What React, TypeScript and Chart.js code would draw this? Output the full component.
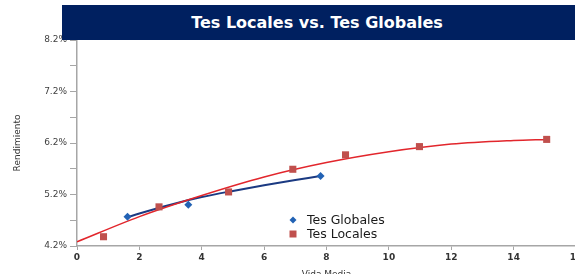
import React, { useEffect, useRef } from 'react';
import { Chart, registerables } from 'chart.js';

Chart.register(...registerables);

const titleText = 'Tes Locales vs. Tes Globales';
const xAxisTitle = 'Vida Media';
const yAxisTitle = 'Rendimiento';

const globalesLabel = 'Tes Globales';
const localesLabel = 'Tes Locales';

const globalesX = [1.62, 3.57, 7.81];
const globalesY = [4.77, 5.0, 5.56];
const localesX = [0.85, 2.63, 4.86, 6.92, 8.61, 10.98, 15.06];
const localesY = [4.38, 4.96, 5.25, 5.69, 5.97, 6.13, 6.27];

// trend lines
const globalesTrendX = [1.62, 2, 3, 4, 5, 6, 7, 7.8];
const globalesTrendY = [4.76, 4.83, 5.0, 5.15, 5.27, 5.38, 5.48, 5.56];
const localesTrendX = [0, 2, 4, 6, 8, 10, 12, 14, 15.06];
const localesTrendY = [4.28, 4.77, 5.18, 5.54, 5.82, 6.03, 6.18, 6.25, 6.27];

const yMin = 4.2;
const yMax = 8.2;
const yStep = 0.5;
const xMin = 0;
const xMax = 16;
const xStep = 2;

const FONT = "'DejaVu Sans', Verdana, sans-serif";
const BLUE_LINE = '#1B3A82';
const BLUE_PT = '#2262B4';
const RED_LINE = '#E2262C';
const RED_PT = '#C0504D';
const AXIS = '#A6A6A6';

const pts = (xs: number[], ys: number[]) => xs.map((x, i) => ({ x, y: ys[i] }));

const legendPlugin = {
  id: 'insideLegend',
  afterDraw(chart: any) {
    const { ctx, chartArea } = chart;
    const x0 = chartArea.left + 216;
    const y0 = chartArea.bottom - 26;
    const items = [
      { label: globalesLabel, color: BLUE_PT, shape: 'diamond' },
      { label: localesLabel, color: RED_PT, shape: 'square' },
    ];
    ctx.save();
    ctx.font = `12.5px ${FONT}`;
    ctx.textBaseline = 'middle';
    ctx.textAlign = 'left';
    items.forEach((it, i) => {
      const y = y0 + i * 14;
      ctx.fillStyle = it.color;
      ctx.beginPath();
      if (it.shape === 'diamond') {
        ctx.moveTo(x0, y - 3.5);
        ctx.lineTo(x0 + 3.5, y);
        ctx.lineTo(x0, y + 3.5);
        ctx.lineTo(x0 - 3.5, y);
        ctx.closePath();
      } else {
        ctx.rect(x0 - 3.5, y - 3.5, 7, 7);
      }
      ctx.fill();
      ctx.fillStyle = '#1a1a1a';
      ctx.fillText(it.label, x0 + 14, y + 0.5);
    });
    ctx.restore();
  },
};

export default function App() {
  const ref = useRef<HTMLCanvasElement | null>(null);

  useEffect(() => {
    document.body.style.margin = '0';
    if (!ref.current) return;
    const chart = new Chart(ref.current, {
      type: 'scatter',
      data: {
        datasets: [
          {
            type: 'scatter',
            label: globalesLabel,
            data: pts(globalesX, globalesY),
            pointStyle: 'rectRot',
            pointRadius: 4,
            backgroundColor: BLUE_PT,
            borderWidth: 0,
            order: 0,
          },
          {
            type: 'scatter',
            label: localesLabel,
            data: pts(localesX, localesY),
            pointStyle: 'rect',
            pointRadius: 5,
            backgroundColor: RED_PT,
            borderWidth: 0,
            order: 0,
          },
          {
            type: 'line',
            label: localesLabel + ' trend',
            data: pts(localesTrendX, localesTrendY),
            borderColor: RED_LINE,
            borderWidth: 1.5,
            pointRadius: 0,
            fill: false,
            tension: 0.4,
            cubicInterpolationMode: 'monotone',
            order: 1,
          },
          {
            type: 'line',
            label: globalesLabel + ' trend',
            data: pts(globalesTrendX, globalesTrendY),
            borderColor: BLUE_LINE,
            borderWidth: 2,
            pointRadius: 0,
            fill: false,
            tension: 0.4,
            cubicInterpolationMode: 'monotone',
            order: 2,
          },
        ] as any,
      },
      options: {
        responsive: false,
        animation: false,
        layout: { padding: { top: 40, right: 24, left: 0, bottom: 0 } },
        plugins: {
          legend: { display: false },
          tooltip: { enabled: false },
          title: { display: false },
        },
        scales: {
          x: {
            type: 'linear',
            min: xMin,
            max: xMax,
            ticks: {
              stepSize: xStep,
              font: { family: FONT, size: 9, weight: 'bold' },
              color: '#333333',
              padding: 2,
              maxRotation: 0,
              callback: (v: any) => String(v),
            },
            grid: { drawOnChartArea: false, drawTicks: true, tickLength: 4, color: AXIS },
            border: { color: AXIS, width: 1.5 },
            title: {
              display: true,
              text: xAxisTitle,
              font: { family: FONT, size: 9 },
              color: '#333333',
              padding: { top: 0, bottom: 6 },
            },
            afterFit: (s: any) => {
              s.height = 40;
            },
          },
          y: {
            type: 'linear',
            min: yMin,
            max: yMax,
            ticks: {
              stepSize: yStep,
              font: { family: FONT, size: 9 },
              color: '#404040',
              padding: 3,
              callback: (v: any, i: number) => (i % 2 === 0 ? Number(v).toFixed(1) + '%' : ''),
            },
            grid: { drawOnChartArea: false, drawTicks: true, tickLength: 7, color: AXIS },
            border: { color: AXIS, width: 1.5 },
            title: {
              display: true,
              text: yAxisTitle,
              font: { family: FONT, size: 9 },
              color: '#333333',
              padding: { top: 12, bottom: 0 },
            },
            afterFit: (s: any) => {
              s.width = 77;
            },
          },
        },
      } as any,
      plugins: [legendPlugin],
    });
    return () => chart.destroy();
  }, []);

  return (
    <div style={{ position: 'relative', width: 575, height: 274, overflow: 'hidden', background: '#fff' }}>
      <canvas ref={ref} width={600} height={286} style={{ position: 'absolute', left: 0, top: 0 }} />
      <div
        style={{
          position: 'absolute',
          left: 62,
          top: 5,
          width: 510,
          height: 35,
          background: '#002060',
          borderRight: '3px solid #002060',
          color: '#ffffff',
          fontFamily: FONT,
          fontWeight: 'bold',
          fontSize: 16,
          display: 'flex',
          alignItems: 'center',
          justifyContent: 'center',
        }}
      >
        {titleText}
      </div>
    </div>
  );
}
